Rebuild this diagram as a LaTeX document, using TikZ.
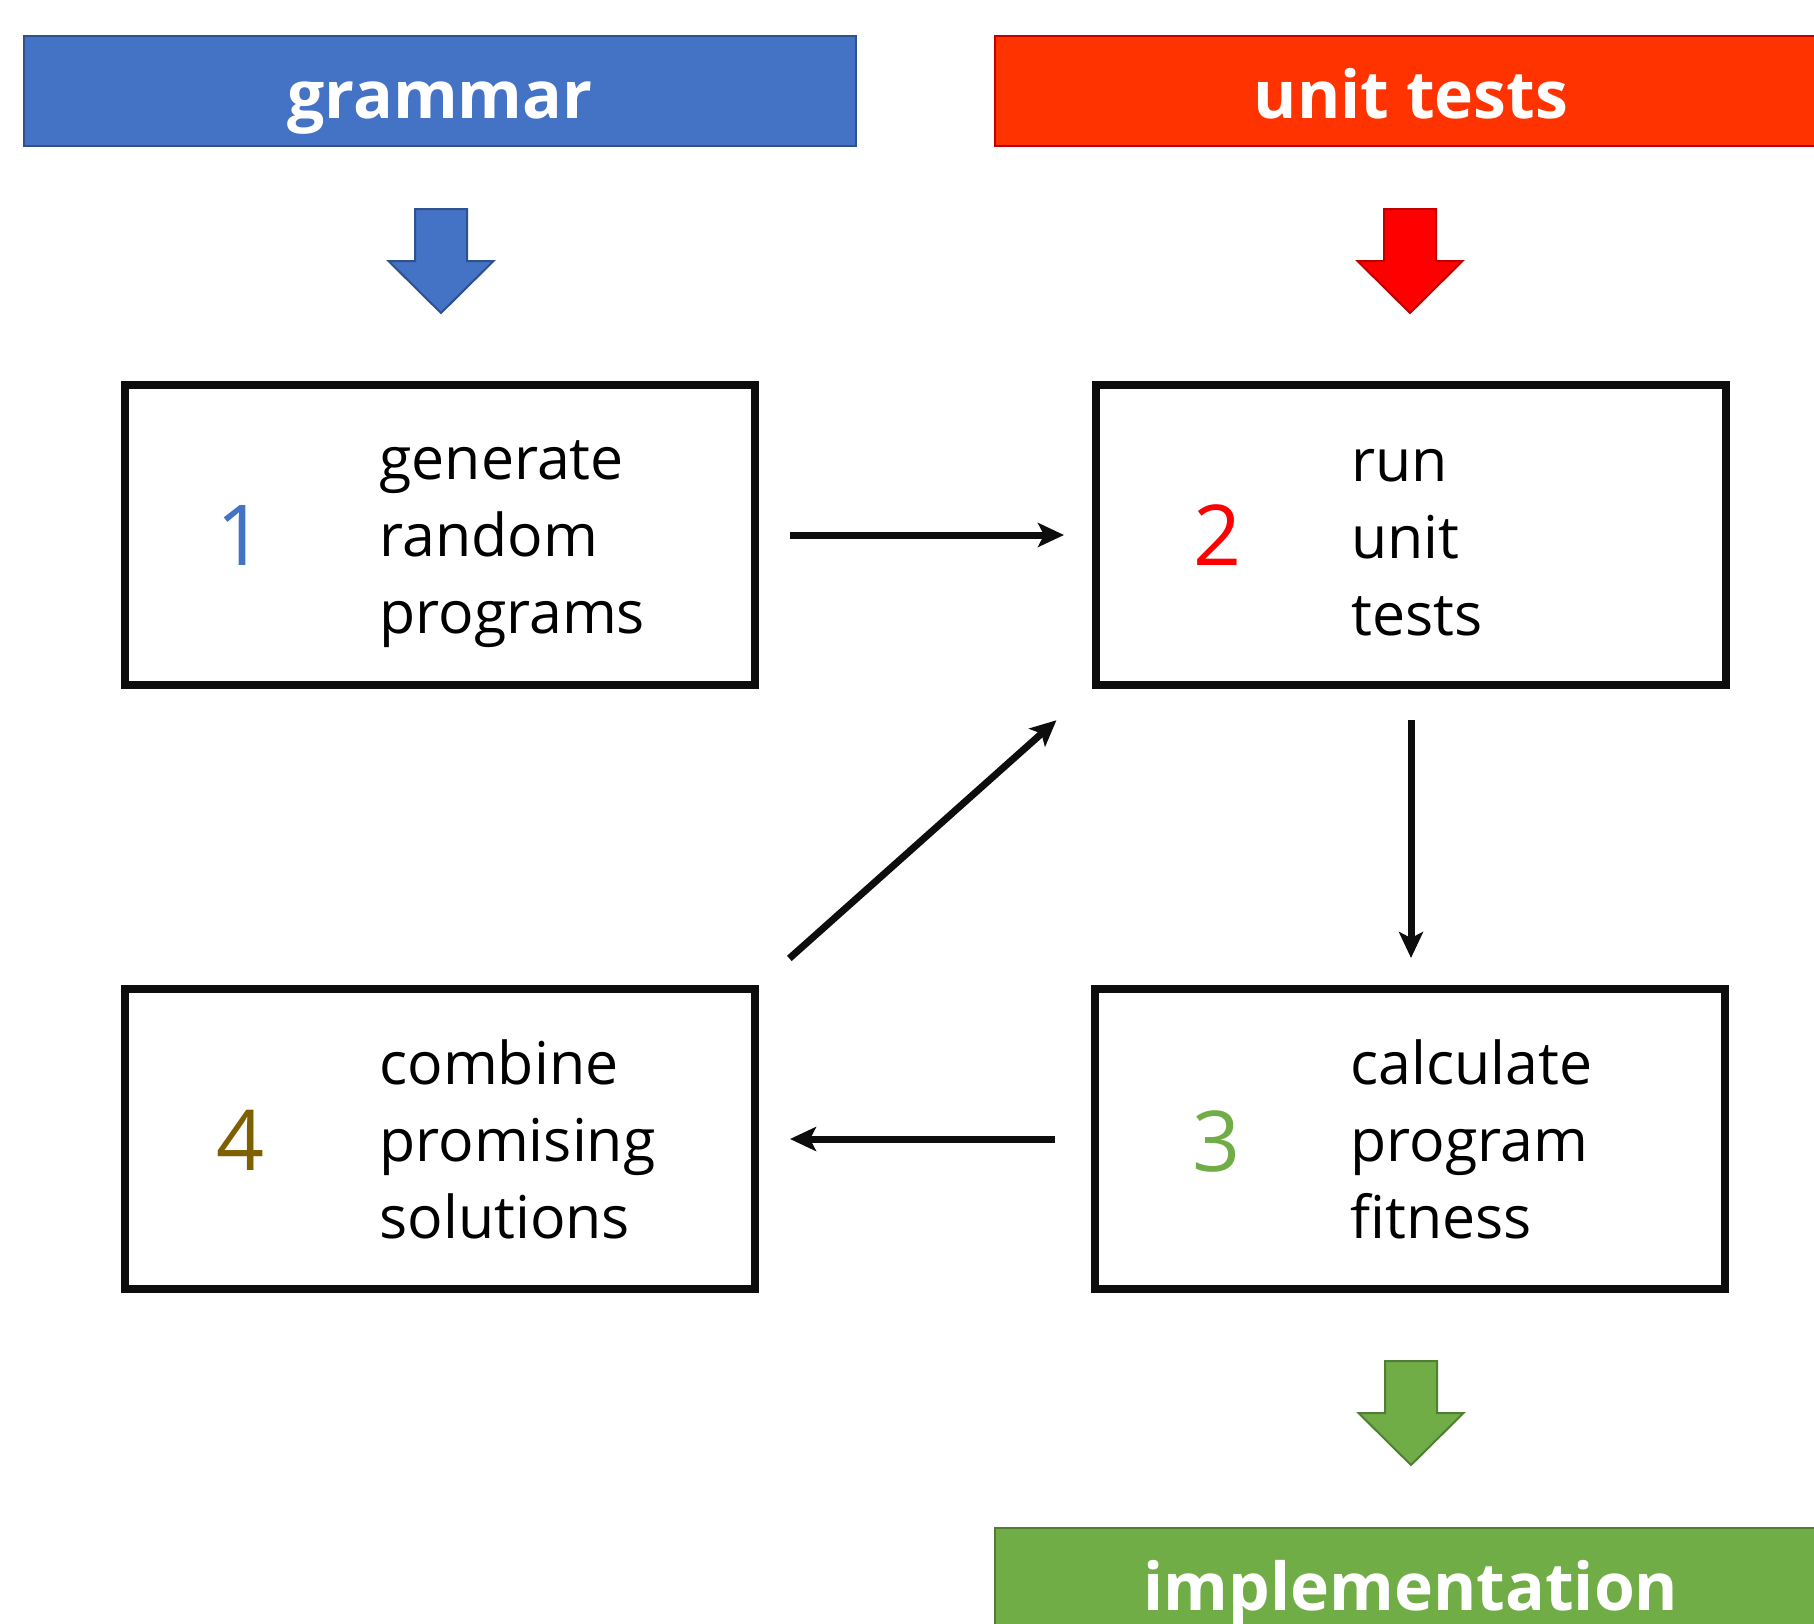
\documentclass[tikz,border=0pt]{standalone}
\usepackage{fontspec}
\setmainfont{Open Sans}
\usetikzlibrary{arrows.meta}

\definecolor{gblue}{HTML}{4472C4}
\definecolor{gblueline}{HTML}{2F528F}
\definecolor{ured}{HTML}{FF3300}
\definecolor{uredline}{HTML}{C00000}
\definecolor{pured}{HTML}{FF0000}
\definecolor{igreen}{HTML}{70AD47}
\definecolor{igreenline}{HTML}{507E32}
\definecolor{olivefour}{HTML}{7F6000}

\begin{document}
\begin{tikzpicture}[x=0.5pt, y=-0.5pt,
  banner/.style={minimum width=416pt, minimum height=55pt, inner sep=0pt, outer sep=0pt,
    line width=1pt, text=white, font=\fontsize{33}{40}\selectfont\bfseries,
    text height=27pt, text depth=0pt},
  stepbox/.style={draw=black!95, line width=4pt, minimum width=315pt, minimum height=150pt,
    inner sep=0pt, outer sep=0pt},
  num/.style={anchor=base, inner sep=0pt, font=\fontsize{42}{50}\selectfont},
  % multi-line text: the base anchor sits on the last line
  steptext/.style={anchor=base west, align=left, inner sep=0pt,
    font=\fontsize{29.5}{38.35}\selectfont},
  conn/.style={draw=black!95, line width=3.5pt, -{Stealth[length=13pt,width=12pt,inset=3pt]}},
  blockarrow/.style={line width=1pt, line join=miter},
  downarrow/.pic={
    \path[blockarrow, pic actions] (-26,0) -- (26,0) -- (26,52) -- (52.5,52) -- (0,104)
      -- (-52.5,52) -- (-26,52) -- cycle;
  }
]
\useasboundingbox (0,0) rectangle (1814,1623);
\clip (0,0) rectangle (1814,1623);

% source and result banners
\node[banner, fill=gblue, draw=gblueline] (grammar) at (440,91) {grammar};
\node[banner, fill=ured, draw=uredline] (tests) at (1411,91) {unit tests};
\node[banner, fill=igreen, draw=igreenline] (impl) at (1411,1583) {implementation};

% block arrows feeding in and out
\pic[fill=gblue, draw=gblueline] at (441,209) {downarrow};
\pic[fill=pured, draw=uredline] at (1410,209) {downarrow};
\pic[fill=igreen, draw=igreenline] at (1411,1361) {downarrow};

% the four steps of the loop
\node[stepbox] (b1) at (440,535) {};
\node[stepbox] (b2) at (1411,535) {};
\node[stepbox] (b3) at (1410,1139) {};
\node[stepbox] (b4) at (440,1139) {};

\node[num, text=gblue] (n1) at (241,565) {1};
\node[num, text=pured] (n2) at (1217,565) {2};
\node[num, text=igreen] (n3) at (1216,1171) {3};
\node[num, text=olivefour] (n4) at (241,1170) {4};

\node[steptext] (t1) at (379,633) {generate\\random\\programs};
\node[steptext] (t2) at (1351,635) {run\\unit\\tests};
\node[steptext] (t3) at (1350,1238) {calculate\\program\\fitness};
\node[steptext] (t4) at (379,1238) {combine\\promising\\solutions};

% loop connectors
\draw[conn, shorten <=17.5pt, shorten >=16pt] (b1.east) -- (b2.west);
\draw[conn, shorten <=17.5pt, shorten >=15.5pt] (b2.south) -- (b2.south |- b3.north);
\draw[conn, shorten <=20pt, shorten >=17.5pt] (b3.west) -- (b4.east);
\draw[conn, shorten <=23pt, shorten >=26.5pt] (b4.north east) -- (b2.south west);
\end{tikzpicture}
\end{document}
